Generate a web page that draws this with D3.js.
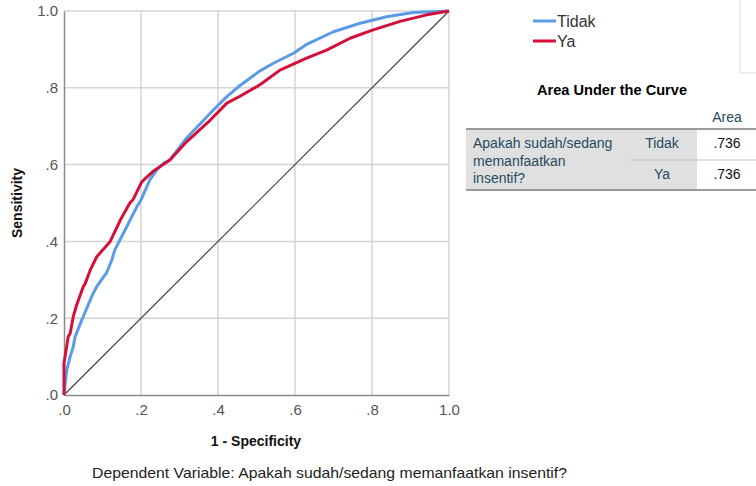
<!DOCTYPE html>
<html>
<head>
<meta charset="utf-8">
<script src="https://cdn.jsdelivr.net/npm/d3@7/dist/d3.min.js"></script>
<style>
  html, body { margin: 0; padding: 0; background: #fff; }
  svg { display: block; font-family: "Liberation Sans", Arial, sans-serif; }
</style>
</head>
<body>
<svg id="chart" width="756" height="486"></svg>
<script>
// ROC curve coordinates: [1 - specificity, sensitivity]
const tidakCurve = [
  [0, 0], [0.007, 0.065], [0.016, 0.10], [0.024, 0.126], [0.029, 0.152], [0.046, 0.195],
  [0.05, 0.204], [0.068, 0.247], [0.076, 0.265], [0.085, 0.282], [0.106, 0.312],
  [0.11, 0.317], [0.124, 0.351], [0.132, 0.378], [0.163, 0.438], [0.189, 0.49],
  [0.2, 0.508], [0.215, 0.542], [0.223, 0.56], [0.241, 0.586], [0.258, 0.603],
  [0.275, 0.612], [0.319, 0.67], [0.388, 0.742], [0.423, 0.777], [0.457, 0.806],
  [0.509, 0.844], [0.544, 0.864], [0.596, 0.89], [0.63, 0.913], [0.70, 0.946],
  [0.769, 0.968], [0.838, 0.985], [0.907, 0.996], [1, 1]
];
const yaCurve = [
  [0, 0], [0, 0.083], [0.011, 0.152], [0.016, 0.16], [0.024, 0.204], [0.033, 0.235],
  [0.05, 0.282], [0.055, 0.29], [0.068, 0.325], [0.085, 0.36], [0.12, 0.40],
  [0.146, 0.455], [0.171, 0.5], [0.18, 0.51], [0.202, 0.555], [0.232, 0.583],
  [0.275, 0.612], [0.319, 0.66], [0.38, 0.716], [0.423, 0.76], [0.457, 0.778],
  [0.509, 0.808], [0.561, 0.846], [0.63, 0.877], [0.682, 0.898], [0.743, 0.929],
  [0.803, 0.951], [0.873, 0.973], [0.942, 0.99], [1, 1]
];
const referenceLine = [[0, 0], [1, 1]];

const seriesNames = ["Tidak", "Ya"];
const seriesColors = ["#5b9be6", "#d3103a"];
const tickValues = [0, 0.2, 0.4, 0.6, 0.8, 1.0];
const tickLabels = [".0", ".2", ".4", ".6", ".8", "1.0"];

// Area Under the Curve table
const aucGroups = ["Tidak", "Ya"];
const aucValues = [".736", ".736"];
const aucVariableLines = ["Apakah sudah/sedang", "memanfaatkan", "insentif?"];

const svg = d3.select("#chart");
const x = d3.scaleLinear().domain([0, 1]).range([64, 449]);
const y = d3.scaleLinear().domain([0, 1]).range([395, 11]);

// grid
const grid = svg.append("g");
grid.selectAll("line.v").data(tickValues.slice(1)).join("line")
  .attr("x1", d => x(d)).attr("x2", d => x(d))
  .attr("y1", y(0)).attr("y2", y(1))
  .attr("stroke", "#d4d4d4").attr("stroke-width", 1.5);
grid.selectAll("line.h").data(tickValues.slice(1)).join("line")
  .attr("x1", x(0)).attr("x2", x(1))
  .attr("y1", d => y(d)).attr("y2", d => y(d))
  .attr("stroke", "#d4d4d4").attr("stroke-width", 1.5);

// axes
const fmt = d => tickLabels[tickValues.indexOf(d)];
const xAxis = svg.append("g").attr("transform", `translate(0,${y(0)})`)
  .call(d3.axisBottom(x).tickValues(tickValues).tickFormat(fmt).tickSize(0).tickPadding(9));
const yAxis = svg.append("g").attr("transform", `translate(${x(0)},0)`)
  .call(d3.axisLeft(y).tickValues(tickValues).tickFormat(fmt).tickSize(0).tickPadding(6));
[xAxis, yAxis].forEach(a => {
  a.select(".domain").attr("stroke", "#8a8a8a").attr("stroke-width", 1.5);
  a.selectAll("text").attr("font-size", 15).attr("fill", "#555")
    .attr("font-family", "Liberation Sans, Arial, sans-serif");
});

// diagonal reference
const line = d3.line().x(d => x(d[0])).y(d => y(d[1]));
svg.append("path").datum(referenceLine).attr("d", line)
  .attr("fill", "none").attr("stroke", "#444").attr("stroke-width", 1.2);

// curves
[tidakCurve, yaCurve].forEach((c, i) => {
  svg.append("path").datum(c).attr("d", line)
    .attr("fill", "none").attr("stroke", seriesColors[i])
    .attr("stroke-width", 3).attr("stroke-linejoin", "round");
});

// axis titles
svg.append("text").attr("x", 256).attr("y", 446).attr("text-anchor", "middle")
  .attr("font-size", 14).attr("font-weight", "bold").attr("fill", "#111")
  .text("1 - Specificity");
svg.append("text").attr("transform", "translate(22,203) rotate(-90)")
  .attr("text-anchor", "middle").attr("font-size", 14).attr("font-weight", "bold")
  .attr("fill", "#111").text("Sensitivity");

// footnote
svg.append("text").attr("x", 92).attr("y", 478).attr("font-size", 14.5).attr("fill", "#222")
  .attr("textLength", 475).attr("lengthAdjust", "spacingAndGlyphs")
  .text("Dependent Variable: Apakah sudah/sedang memanfaatkan insentif?");

// legend
const legend = svg.append("g");
seriesNames.forEach((n, i) => {
  const ly = 21 + i * 20;
  legend.append("line").attr("x1", 533).attr("x2", 556).attr("y1", ly).attr("y2", ly)
    .attr("stroke", seriesColors[i]).attr("stroke-width", 3);
  legend.append("text").attr("x", 557).attr("y", ly + 6).attr("font-size", 16)
    .attr("fill", "#333").text(n);
});

// faint frame fragment at top right
svg.append("path").attr("d", "M740,0V73H756").attr("fill", "none")
  .attr("stroke", "#dcdcdc").attr("stroke-width", 1);

// AUC table
const tbl = svg.append("g");
const tColor = "#264a60";
tbl.append("text").attr("x", 612).attr("y", 95).attr("text-anchor", "middle")
  .attr("font-size", 14.6).attr("font-weight", "bold").attr("fill", "#000")
  .text("Area Under the Curve");
tbl.append("text").attr("x", 727).attr("y", 122).attr("text-anchor", "middle")
  .attr("font-size", 14).attr("fill", tColor).text("Area");
tbl.append("rect").attr("x", 466).attr("y", 129).attr("width", 231).attr("height", 61)
  .attr("fill", "#e0e0e0");
tbl.append("line").attr("x1", 466).attr("x2", 756).attr("y1", 129).attr("y2", 129)
  .attr("stroke", "#9a9a9a").attr("stroke-width", 2);
tbl.append("line").attr("x1", 466).attr("x2", 756).attr("y1", 190).attr("y2", 190)
  .attr("stroke", "#9a9a9a").attr("stroke-width", 2);
tbl.append("line").attr("x1", 630).attr("x2", 756).attr("y1", 160).attr("y2", 160)
  .attr("stroke", "#bdbdbd").attr("stroke-width", 1);
aucVariableLines.forEach((t, i) => {
  tbl.append("text").attr("x", 473).attr("y", 148 + i * 17.5).attr("font-size", 14)
    .attr("fill", tColor).text(t);
});
aucGroups.forEach((g, i) => {
  const by = 148 + i * 31;
  tbl.append("text").attr("x", 662).attr("y", by).attr("text-anchor", "middle")
    .attr("font-size", 14).attr("fill", tColor).text(g);
  tbl.append("text").attr("x", 727).attr("y", by).attr("text-anchor", "middle")
    .attr("font-size", 14).attr("fill", "#111").text(aucValues[i]);
});
</script>
</body>
</html>
